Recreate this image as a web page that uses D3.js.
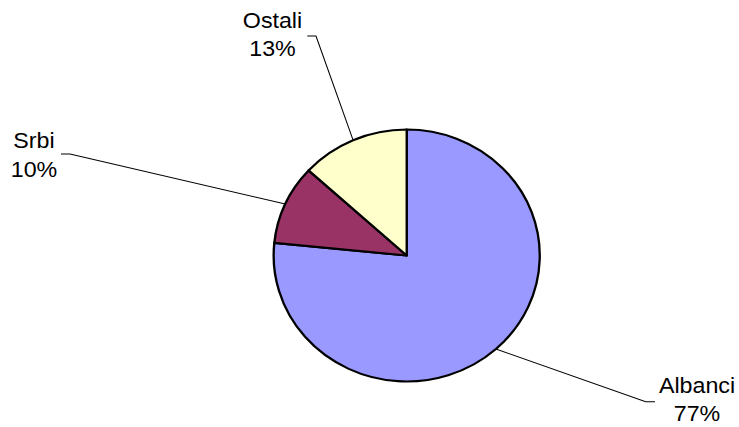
<!DOCTYPE html>
<html><head><meta charset="utf-8">
<script src="https://cdn.jsdelivr.net/npm/d3@7"></script>
<style>body{margin:0;background:#fff}svg{display:block}text{font-family:"Liberation Sans",Arial,sans-serif}</style>
</head><body>
<script>
const categories = ["Albanci", "Srbi", "Ostali"];
const values = [76.6, 10.2, 13.2];
const labels = ["77%", "10%", "13%"];
const colors = ["#9999FF", "#993366", "#FFFFCC"];

const W = 739, H = 427, sx = 1.056;
const cx = 406.7, cy = 255.5, r = 126;
// label layout (screen coords): text center x, first baseline, tick end near text, elbow
const layout = [
  {tx: 697, ty: 393, tick: [655, 401.7], elbow: [645.7, 401.7]},
  {tx: 34, ty: 148.5, tick: [61, 154], elbow: [70, 154]},
  {tx: 272.5, ty: 28, tick: [307.3, 36], elbow: [316, 36]}
];

const svg = d3.select("body").append("svg").attr("width", W).attr("height", H);
const g = svg.append("g").attr("transform", `scale(${sx},1)`);

const data = categories.map((c, i) => ({c, v: values[i], l: labels[i], col: colors[i], lay: layout[i]}));
const pie = d3.pie().sort(null).value(d => d.v);
const arcs = pie(data);
const arc = d3.arc().innerRadius(0).outerRadius(r);

// leader lines
arcs.forEach(a => {
  const mid = (a.startAngle + a.endAngle) / 2;
  const px = cx / sx + r * Math.sin(mid), py = cy - r * Math.cos(mid);
  const L = a.data.lay;
  g.append("polyline")
    .attr("points", `${L.tick[0]/sx},${L.tick[1]} ${L.elbow[0]/sx},${L.elbow[1]} ${px},${py}`)
    .attr("fill", "none").attr("stroke", "#000").attr("stroke-width", 1);
});

const pg = g.append("g").attr("transform", `translate(${cx/sx},${cy})`);
pg.selectAll("path").data(arcs).join("path")
  .attr("d", arc).attr("fill", d => d.data.col)
  .attr("stroke", "#000").attr("stroke-width", 2.2).attr("stroke-linejoin", "round");

arcs.forEach(a => {
  const L = a.data.lay;
  const t = g.append("text").attr("text-anchor", "middle").attr("font-size", 22).attr("fill", "#000");
  t.append("tspan").attr("x", L.tx / sx).attr("y", L.ty).text(a.data.c);
  t.append("tspan").attr("x", L.tx / sx).attr("y", L.ty + 28.5).text(a.data.l);
});
</script>
</body></html>
